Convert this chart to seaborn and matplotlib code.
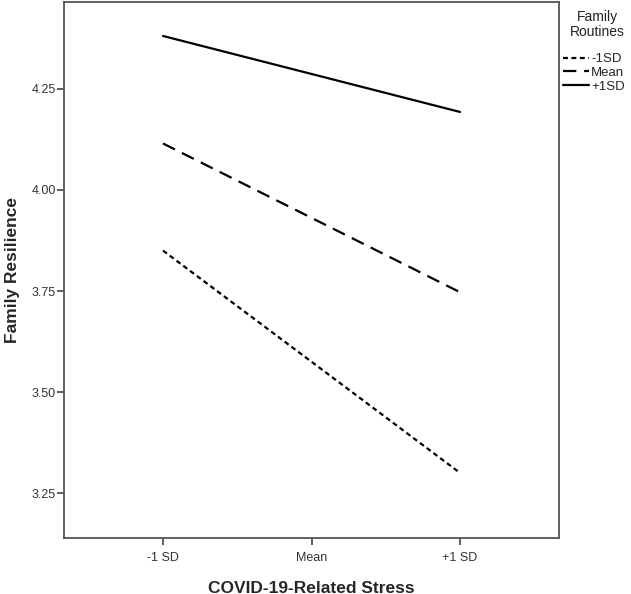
import matplotlib
matplotlib.use("Agg")
import matplotlib.pyplot as plt
import numpy as np
import pandas as pd
import seaborn as sns

# simple slopes: family resilience at -1 SD / +1 SD of COVID stress
stress_levels = [-1, 1]
stress_ticks = [-1, 0, 1]
stress_labels = ["-1 SD", "Mean", "+1 SD"]
routine_groups = ["-1SD", "Mean", "+1SD"]
low_routines = [3.85, 3.30]
mean_routines = [4.115, 3.747]
high_routines = [4.381, 4.193]

df = pd.DataFrame({
    "stress": stress_levels * 3,
    "resilience": low_routines + mean_routines + high_routines,
    "routines": [g for g in routine_groups for _ in stress_levels],
})

sns.set_style("white")
plt.rcParams["font.family"] = ["Liberation Sans", "DejaVu Sans"]

fig = plt.figure(figsize=(6.31, 5.94), dpi=100)
ax = fig.add_axes([0.1014, 0.0943, 0.7846, 0.9023])

dashes = {"-1SD": (2.2, 1.6), "Mean": (6, 3.5), "+1SD": ""}
sns.lineplot(data=df, x="stress", y="resilience", style="routines",
             style_order=routine_groups, dashes=dashes, color="black",
             linewidth=1.6, ax=ax, legend=True)

ax.set_xlim(-1.667, 1.667)
ax.set_ylim(3.139, 4.465)
ax.set_xticks(stress_ticks)
ax.set_xticklabels(stress_labels)
ax.set_yticks([3.25, 3.50, 3.75, 4.00, 4.25])
ax.set_yticklabels(["3.25", "3.50", "3.75", "4.00", "4.25"])
ax.tick_params(axis="both", which="both", direction="out", length=5,
               width=1.2, color="#444444", labelsize=9, labelcolor="#333333",
               bottom=True, left=True, top=False, right=False)
ax.tick_params(axis="x", pad=5)
ax.tick_params(axis="y", pad=1)

for sp in ax.spines.values():
    sp.set_visible(True)
    sp.set_color("#555555")
    sp.set_linewidth(1.3)

ax.set_xlabel("COVID-19-Related Stress", fontsize=12.5, fontweight="bold",
              labelpad=12)
ax.set_ylabel("Family Resilience", fontsize=12.5, fontweight="bold",
              labelpad=8)

# legend title drawn separately so the gap to the entries matches
fig.text(597 / 631, 1 - 10 / 594, "Family\nRoutines", ha="center", va="top",
         fontsize=10, linespacing=1.1, color="#222222")

handles, labels = ax.get_legend_handles_labels()
ax.get_legend().remove()
leg = fig.legend(handles, labels, loc="upper left",
                 bbox_to_anchor=(563 / 631, 1 - 53 / 594),
                 bbox_transform=fig.transFigure,
                 frameon=False, fontsize=9.5,
                 handlelength=2.0, handletextpad=0.15, labelspacing=0.12,
                 borderaxespad=0.0, borderpad=0.0)

fig.savefig("out.png", dpi=100)
